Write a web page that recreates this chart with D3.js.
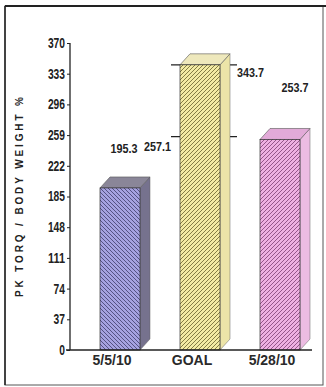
<!DOCTYPE html>
<html>
<head>
<meta charset="utf-8">
<script src="https://cdn.jsdelivr.net/npm/d3@7"></script>
<style>
  html, body { margin: 0; padding: 0; background: #fff; }
  svg { display: block; }
</style>
</head>
<body>
<svg id="chart" width="326" height="387"></svg>
<script>
// Peak torque relative to body weight, per test date and the goal
const categories = ["5/5/10", "GOAL", "5/28/10"];
const values = [195.3, 343.7, 253.7];
const goalRange = [257.1, 343.7];
const tickValues = [0, 37, 74, 111, 148, 185, 222, 259, 296, 333, 370];
const yTitle = "PK TORQ / BODY WEIGHT   %";

// bar palettes: front, stripes, side, top
const palettes = [
  { front: "#a6a2e0", stripe: "#4c4878", side: "#76728e", top: "#8a8698", dir: "back" },
  { front: "#f3eba4", stripe: "#77703a", side: "#ece4a8", top: "#eee8bc", dir: "fwd" },
  { front: "#eeb0e2", stripe: "#8a4c80", side: "#ecbce2", top: "#e2aad8", dir: "fwd" }
];
// value label placement relative to each bar top
const labelOffsets = [{ dx: 4, dy: -35 }, null, { dx: 15, dy: -47 }];

const svg = d3.select("#chart");
const depth = { dx: 10, dy: 11 };
const numFont = "'Liberation Sans', Arial, sans-serif";

// condensed number text: squeeze glyphs to a fixed per-character width
function condense(sel, perChar) {
  sel.each(function () {
    const t = d3.select(this);
    t.attr("textLength", t.text().length * perChar).attr("lengthAdjust", "spacingAndGlyphs");
  });
}

const x = d3.scaleBand().domain(categories).range([80, 320]).paddingInner(0.5).paddingOuter(0.25);
const y = d3.scaleLinear().domain([0, 370]).range([350, 43]);

// frame
svg.append("rect").attr("x", 5).attr("y", 6).attr("width", 318).attr("height", 379)
  .attr("fill", "none").attr("stroke", "#555").attr("stroke-width", 1);
svg.append("line").attr("x1", 5).attr("x2", 326).attr("y1", 6).attr("y2", 6)
  .attr("stroke", "#222").attr("stroke-width", 2);
svg.append("line").attr("x1", 5).attr("x2", 5).attr("y1", 6).attr("y2", 385)
  .attr("stroke", "#222").attr("stroke-width", 1.5);

// hatch patterns
const defs = svg.append("defs");
palettes.forEach((p, i) => {
  const pat = defs.append("pattern").attr("id", "hatch" + i)
    .attr("patternUnits", "userSpaceOnUse").attr("width", 4).attr("height", 4);
  pat.append("rect").attr("width", 4).attr("height", 4).attr("fill", p.front);
  const d = p.dir === "fwd"
    ? "M-1,1 l2,-2 M0,4 l4,-4 M3,5 l2,-2"
    : "M-1,3 l2,2 M0,0 l4,4 M3,-1 l2,2";
  pat.append("path").attr("d", d).attr("stroke", p.stripe).attr("stroke-width", 0.9);
});

// goal range markers, behind the bars
const gx0 = x("GOAL") - 9, gx1 = x("GOAL") + x.bandwidth() + depth.dx + 7;
goalRange.forEach(v => {
  svg.append("line").attr("x1", gx0).attr("x2", gx1).attr("y1", y(v)).attr("y2", y(v))
    .attr("stroke", "#222").attr("stroke-width", 1.3);
});

// 3D bars
const bars = svg.append("g").selectAll("g").data(categories).join("g");
bars.each(function (c, i) {
  const g = d3.select(this);
  const p = palettes[i];
  const x0 = x(c), w = x.bandwidth(), yt = y(values[i]), yb = y(0);
  g.append("path")
    .attr("d", `M${x0 + w},${yt} l${depth.dx},${-depth.dy} L${x0 + w + depth.dx},${yb - depth.dy} L${x0 + w},${yb} Z`)
    .attr("fill", p.side).attr("stroke", "#666").attr("stroke-width", 0.5);
  g.append("path")
    .attr("d", `M${x0},${yt} l${depth.dx},${-depth.dy} l${w},0 l${-depth.dx},${depth.dy} Z`)
    .attr("fill", p.top).attr("stroke", "#555").attr("stroke-width", 0.6);
  g.append("rect").attr("x", x0).attr("y", yt).attr("width", w).attr("height", yb - yt)
    .attr("fill", `url(#hatch${i})`).attr("stroke", "#333").attr("stroke-width", 0.7);
});

// axes
const yAxis = svg.append("g").attr("transform", "translate(70,0)")
  .call(d3.axisLeft(y).tickValues(tickValues).tickSize(3).tickPadding(2).tickFormat(d3.format("d")));
yAxis.select(".domain").attr("stroke", "#222").attr("stroke-width", 1.3).attr("d", `M0,${y(370)}V${y(0)}`);
yAxis.selectAll(".tick line").attr("stroke", "#222");
yAxis.selectAll(".tick text")
  .attr("font-family", numFont)
  .attr("font-size", 14).attr("font-weight", "bold").attr("fill", "#222")
  .call(condense, 5.7);

svg.append("line").attr("x1", 66).attr("x2", 312).attr("y1", y(0)).attr("y2", y(0))
  .attr("stroke", "#222").attr("stroke-width", 1.3);

// category labels
svg.append("g").selectAll("text").data(categories).join("text")
  .attr("x", c => x(c) + x.bandwidth() / 2 - 8)
  .attr("y", 365)
  .attr("text-anchor", "middle")
  .attr("font-family", "'Liberation Sans', Arial, sans-serif")
  .attr("font-size", 14).attr("font-weight", "bold").attr("fill", "#2a2a2a")
  .text(c => c);

// value labels
function numLabel(xPos, yPos, anchor, v) {
  svg.append("text").attr("x", xPos).attr("y", yPos).attr("text-anchor", anchor)
    .attr("font-family", numFont).attr("font-size", 13).attr("font-weight", "bold").attr("fill", "#222")
    .text(d3.format(".1f")(v))
    .call(condense, 5.4);
}
values.forEach((v, i) => {
  const o = labelOffsets[i];
  if (!o) return;
  numLabel(x(categories[i]) + x.bandwidth() / 2 + o.dx, y(v) + o.dy, "middle", v);
});
numLabel(gx1, y(goalRange[1]) + 12, "start", goalRange[1]);
numLabel(gx0, y(goalRange[0]) + 14, "end", goalRange[0]);

// y-axis title
svg.append("text")
  .attr("transform", "translate(23,197) rotate(-90)")
  .attr("text-anchor", "middle")
  .attr("font-family", "'Liberation Sans', Arial, sans-serif")
  .attr("font-size", 10).attr("font-weight", "bold").attr("fill", "#222")
  .attr("textLength", 200).attr("lengthAdjust", "spacing")
  .text(yTitle);
</script>
</body>
</html>
